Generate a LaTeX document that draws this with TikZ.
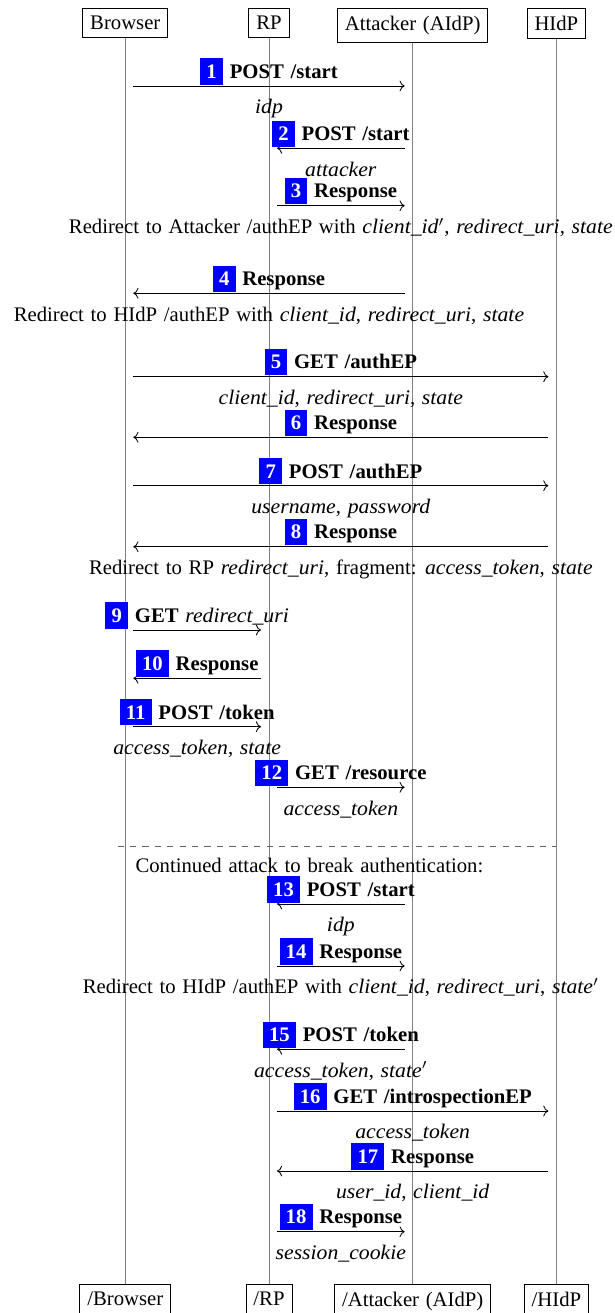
\documentclass[tikz,border=0pt]{standalone}
\usepackage{fontspec}
\setmainfont{Liberation Serif}[WordSpace=1.3, ItalicFeatures={FakeStretch=1.05}]
\usepackage{xcolor}
\usepackage{tikz}
\usetikzlibrary{arrows.meta}

\newcommand{\stepno}[1]{\colorbox{blue}{\textcolor{white}{\textbf{#1}}}}

\begin{document}
\begin{tikzpicture}[x=0.483pt, y=-0.483pt,
    actor/.style={draw, inner sep=3.6pt, anchor=north},
    lifeline/.style={draw=gray},
    msg/.style={->},
    msglabel/.style={anchor=south, inner sep=0.5pt, font=\bfseries},
    msgdata/.style={anchor=base, yshift=-13.5pt, inner sep=0pt},
    separator/.style={dashed, draw=gray!80!black}]
                \useasboundingbox (0,0) rectangle (614,1313);
                % Participants
                \node[actor] (browser) at (125.3,8.3) {Browser};
                \node[actor] (rp) at (269,8.3) {RP};
                \node[actor] (aidp) at (412.7,8.3) {Attacker (AIdP)};
                \node[actor] (hidp) at (556.4,8.3) {HIdP};
                \node[actor] (browserend) at (125.3,1284.3) {/Browser};
                \node[actor] (rpend) at (269,1284.3) {/RP};
                \node[actor] (aidpend) at (412.7,1284.3) {/Attacker (AIdP)};
                \node[actor] (hidpend) at (556.4,1284.3) {/HIdP};
                \foreach \p in {browser, rp, aidp, hidp} {
                    \draw[lifeline] (\p) -- (\p end);
                }
                % Messages
                \foreach \n/\xa/\xb/\y/\lab/\dat in {
                    1/133.3/404.7/86/{POST /start}/{\textit{idp}},
                    2/404.7/277/148.3/{POST /start}/{\textit{attacker}},
                    3/277/404.7/205.7/{Response}/{Redirect to Attacker /authEP with \textit{client\_id}$'$, \textit{redirect\_uri}, \textit{state}},
                    4/404.7/133.3/293.3/{Response}/{Redirect to HIdP /authEP with \textit{client\_id}, \textit{redirect\_uri}, \textit{state}},
                    5/133.3/548.4/376.7/{GET /authEP}/{\textit{client\_id}, \textit{redirect\_uri}, \textit{state}},
                    6/548.4/133.3/437.3/{Response}/{},
                    7/133.3/548.4/485.7/{POST /authEP}/{\textit{username}, \textit{password}},
                    8/548.4/133.3/546.7/{Response}/{Redirect to RP \textit{redirect\_uri}, fragment: \textit{access\_token}, \textit{state}},
                    9/133.3/261/630/{GET \mdseries\itshape redirect\_uri}/{},
                    10/261/133.3/678.3/{Response}/{},
                    11/133.3/261/726.7/{POST /token}/{\textit{access\_token}, \textit{state}},
                    12/277/404.7/787.3/{GET /resource}/{\textit{access\_token}},
                    13/404.7/277/904/{POST /start}/{\textit{idp}},
                    14/277/404.7/966/{Response}/{Redirect to HIdP /authEP with \textit{client\_id}, \textit{redirect\_uri}, \textit{state}$'$},
                    15/404.7/277/1049.3/{POST /token}/{\textit{access\_token}, \textit{state}$'$},
                    16/277/548.4/1111/{GET /introspectionEP}/{\textit{access\_token}},
                    17/548.4/277/1171/{Response}/{\textit{user\_id}, \textit{client\_id}},
                    18/277/404.7/1231.7/{Response}/{\textit{session\_cookie}}} {
                    \coordinate (s\n) at (\xa,\y);
                    \coordinate (e\n) at (\xb,\y);
                    \draw[msg] (s\n) -- node[msglabel] (l\n) {\stepno{\n} \lab}
                        node[msgdata] (d\n) {\dat} (e\n);
                }
                % Second part of the attack
                \coordinate (sepl) at (117.5,846.7);
                \coordinate (sepr) at (556.4,846.7);
                \draw[separator] (sepl) -- (sepr);
                \node[anchor=base] (cont) at (309.4,872.7) {Continued attack to break authentication:};
            \end{tikzpicture}
\end{document}
